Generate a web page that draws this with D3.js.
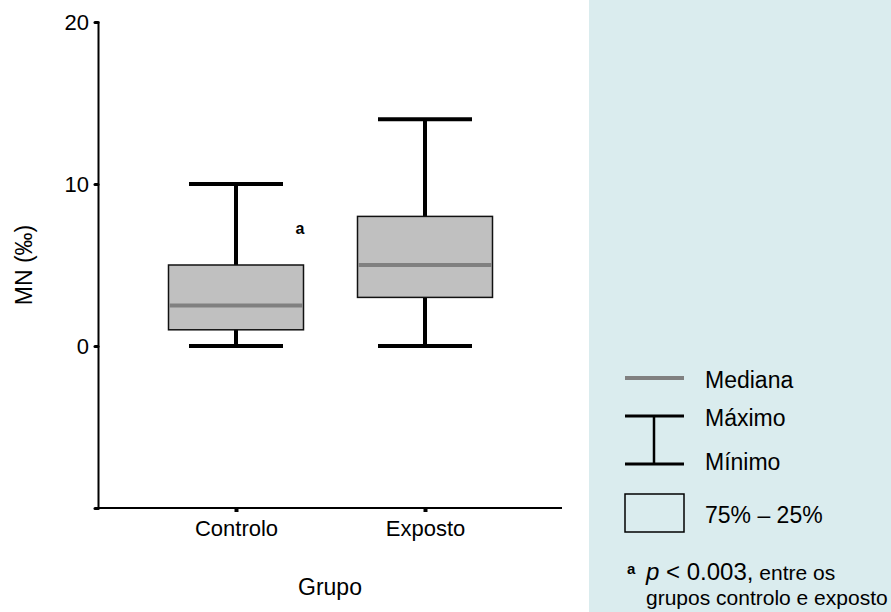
<!DOCTYPE html>
<html>
<head>
<meta charset="utf-8">
<script src="https://cdn.jsdelivr.net/npm/d3@7"></script>
<style>
  html, body { margin: 0; padding: 0; background: #fff; }
  svg { display: block; font-family: "Liberation Sans", Arial, sans-serif; }
</style>
</head>
<body>
<div id="chart"></div>
<script>
// box plot values per group (MN, ‰)
var groups  = ['Controlo', 'Exposto'];
var mins    = [0, 0];
var q1s     = [1, 3];
var medians = [2.5, 5];
var q3s     = [5, 8];
var maxs    = [10, 14];

var yTicks = [-10, 0, 10, 20];
var yTickLabels = ['', '0', '10', '20'];

var width = 891, height = 612;
var margin = { left: 98, top: 22, bottom: 104 };
var plotRight = 562;
var FONT = '"Liberation Sans", Arial, sans-serif';

var svg = d3.select('#chart').append('svg')
  .attr('width', width)
  .attr('height', height);

// legend panel
svg.append('rect')
  .attr('x', 589).attr('y', 0)
  .attr('width', width - 589).attr('height', height)
  .attr('fill', '#daecee');

var y = d3.scaleLinear().domain([-10, 20]).range([height - margin.bottom, margin.top]);
var x = d3.scalePoint().domain(groups).range([236, 425]);

// y axis
var yAxis = svg.append('g')
  .attr('transform', 'translate(' + margin.left + ',0)')
  .call(d3.axisLeft(y).tickValues(yTicks)
    .tickFormat(function(d, i) { return yTickLabels[i]; })
    .tickSize(3).tickPadding(6));
yAxis.select('.domain').attr('stroke', '#000').attr('stroke-width', 2);
yAxis.selectAll('.tick line').attr('stroke', '#000').attr('stroke-width', 3).attr('stroke-linecap', 'round');
yAxis.selectAll('.tick text').attr('font-size', 22).attr('fill', '#000')
  .attr('font-family', FONT);

// x axis
var xAxis = svg.append('g')
  .attr('transform', 'translate(0,' + y(-10) + ')')
  .call(d3.axisBottom(x).tickSize(4).tickPadding(8));
xAxis.select('.domain').attr('d', 'M' + margin.left + ',0H' + plotRight).attr('stroke', '#000').attr('stroke-width', 2);
xAxis.selectAll('.tick line').attr('stroke', '#000').attr('stroke-width', 4);
xAxis.selectAll('.tick text').attr('font-size', 22).attr('fill', '#000')
  .attr('font-family', FONT);

// axis titles
svg.append('text')
  .attr('transform', 'translate(32,' + y(5) + ') rotate(-90)')
  .attr('text-anchor', 'middle')
  .attr('font-size', 23)
  .text('MN (‰)');

svg.append('text')
  .attr('x', 330).attr('y', 595)
  .attr('text-anchor', 'middle')
  .attr('font-size', 23)
  .text('Grupo');

// boxes
var boxW = 135, capW = 94;
var box = svg.append('g').selectAll('g')
  .data(groups)
  .join('g');

box.append('line')
  .attr('x1', function(d) { return x(d); })
  .attr('x2', function(d) { return x(d); })
  .attr('y1', function(d, i) { return y(mins[i]); })
  .attr('y2', function(d, i) { return y(maxs[i]); })
  .attr('stroke', '#000').attr('stroke-width', 4);

box.append('line')
  .attr('x1', function(d) { return x(d) - capW / 2; })
  .attr('x2', function(d) { return x(d) + capW / 2; })
  .attr('y1', function(d, i) { return y(maxs[i]); })
  .attr('y2', function(d, i) { return y(maxs[i]); })
  .attr('stroke', '#000').attr('stroke-width', 4);

box.append('line')
  .attr('x1', function(d) { return x(d) - capW / 2; })
  .attr('x2', function(d) { return x(d) + capW / 2; })
  .attr('y1', function(d, i) { return y(mins[i]); })
  .attr('y2', function(d, i) { return y(mins[i]); })
  .attr('stroke', '#000').attr('stroke-width', 4);

box.append('rect')
  .attr('x', function(d) { return x(d) - boxW / 2; })
  .attr('y', function(d, i) { return y(q3s[i]); })
  .attr('width', boxW)
  .attr('height', function(d, i) { return y(q1s[i]) - y(q3s[i]); })
  .attr('fill', '#c0c0c0')
  .attr('stroke', '#111').attr('stroke-width', 1.5);

box.append('line')
  .attr('x1', function(d) { return x(d) - boxW / 2 + 1; })
  .attr('x2', function(d) { return x(d) + boxW / 2 - 1; })
  .attr('y1', function(d, i) { return y(medians[i]); })
  .attr('y2', function(d, i) { return y(medians[i]); })
  .attr('stroke', '#808080').attr('stroke-width', 4);

// significance mark
svg.append('text')
  .attr('x', 300).attr('y', 234)
  .attr('text-anchor', 'middle')
  .attr('font-size', 16).attr('font-weight', 'bold')
  .text('a');

// legend
var lg = svg.append('g');
lg.append('line').attr('x1', 625).attr('x2', 684).attr('y1', 378).attr('y2', 378)
  .attr('stroke', '#808080').attr('stroke-width', 4);
lg.append('line').attr('x1', 625).attr('x2', 684).attr('y1', 416).attr('y2', 416)
  .attr('stroke', '#000').attr('stroke-width', 3);
lg.append('line').attr('x1', 625).attr('x2', 684).attr('y1', 464).attr('y2', 464)
  .attr('stroke', '#000').attr('stroke-width', 3);
lg.append('line').attr('x1', 654).attr('x2', 654).attr('y1', 416).attr('y2', 464)
  .attr('stroke', '#000').attr('stroke-width', 2.5);
lg.append('rect').attr('x', 625).attr('y', 494).attr('width', 59).attr('height', 38)
  .attr('fill', 'none').attr('stroke', '#000').attr('stroke-width', 1.5);

var legendText = [['Mediana', 388], ['Máximo', 426], ['Mínimo', 470], ['75% – 25%', 523]];
lg.selectAll('text.lbl')
  .data(legendText)
  .join('text')
  .attr('class', 'lbl')
  .attr('x', 705)
  .attr('y', function(d) { return d[1]; })
  .attr('font-size', 23)
  .text(function(d) { return d[0]; });

var note = lg.append('text').attr('x', 627).attr('y', 580);
note.append('tspan').attr('font-size', 15).attr('font-weight', 'bold').attr('dy', -6).text('a');
note.append('tspan').attr('x', 646).attr('dy', 6).attr('font-size', 24).attr('font-style', 'italic').text('p');
note.append('tspan').attr('font-size', 24).text(' < 0.003,');
note.append('tspan').attr('font-size', 21).text(' entre os');
lg.append('text').attr('x', 646).attr('y', 605).attr('font-size', 21)
  .text('grupos controlo e exposto');
</script>
</body>
</html>
